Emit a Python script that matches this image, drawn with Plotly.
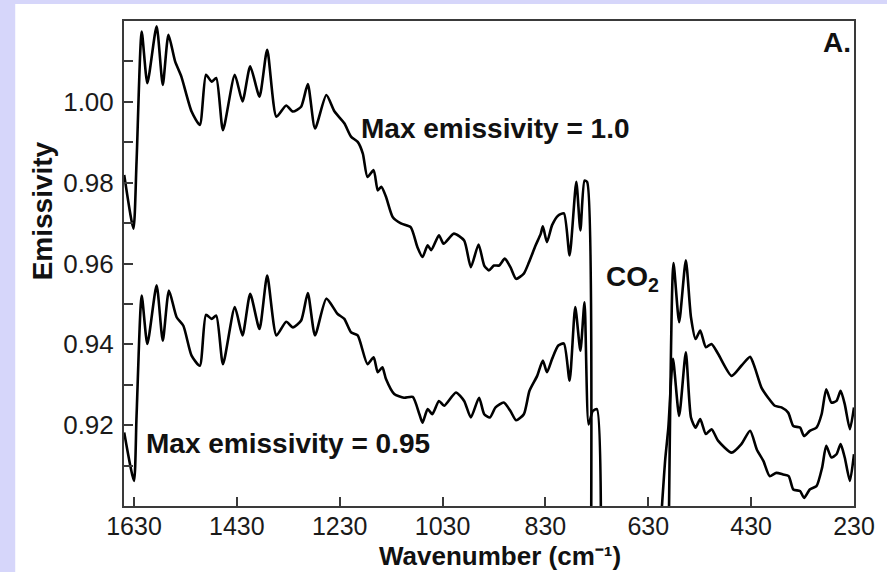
import plotly.graph_objects as go

# Emissivity spectra (wavenumber in cm-1), two scalings of the same retrieval.
# None marks the CO2 band gap.
wn_max100 = [1649, 1631, 1625, 1615, 1604, 1586, 1574, 1563, 1550, 1538, 1518, 1502,
             1490, 1479, 1470, 1457, 1434, 1419, 1404, 1386, 1371, 1353, 1334, 1321,
             1305, 1292, 1278, 1256, 1240, 1221, 1208, 1195, 1185, 1176, 1164, 1156,
             1149, 1140, 1127, 1111, 1092, 1079, 1069, 1059, 1052, 1037, 1028, 1008,
             988, 975, 960, 949, 940, 930, 920, 909, 898, 887, 872, 862, 849, 839,
             835, 827, 817, 805, 794, 783, 770, 762, 754, 749, 741,
             None,
             590, 581, 570, 557, 547, 538, 529, 518, 507, 494, 468, 449, 432, 423,
             410, 397, 384, 371, 358, 348, 335, 327, 316, 303, 293, 284, 274, 264,
             256, 248, 238, 230]
em_max100 = [0.9819, 0.9686, 0.9852, 1.0174, 1.0046, 1.0187, 1.0042, 1.0166, 1.0100,
             1.0063, 0.9976, 0.9943, 1.0067, 1.0050, 1.0059, 0.9930, 1.0067, 1.0001,
             1.0088, 1.0013, 1.0129, 0.9963, 0.9991, 0.9976, 0.9988, 1.0044, 0.9934,
             1.0017, 0.9976, 0.9947, 0.9914, 0.9901, 0.9872, 0.9814, 0.9831, 0.9781,
             0.9790, 0.9765, 0.9715, 0.9699, 0.9690, 0.9641, 0.9616, 0.9645, 0.9633,
             0.9670, 0.9649, 0.9674, 0.9657, 0.9591, 0.9647, 0.9595, 0.9583, 0.9595,
             0.9595, 0.9612, 0.9591, 0.9562, 0.9575, 0.9603, 0.9645, 0.9674, 0.9692,
             0.9653, 0.9695, 0.9719, 0.9724, 0.9620, 0.9802, 0.9682, 0.9805, 0.9802,
             0.8950,
             None,
             0.8950, 0.9601, 0.9455, 0.9608, 0.9467, 0.9413, 0.9434, 0.9393, 0.9401,
             0.9376, 0.9322, 0.9347, 0.9369, 0.9343, 0.9293, 0.9268, 0.9248, 0.9244,
             0.9231, 0.9198, 0.9194, 0.9173, 0.9186, 0.9194, 0.9227, 0.9289, 0.9256,
             0.9260, 0.9285, 0.9252, 0.9190, 0.9244]

wn_max095 = [1649, 1630, 1625, 1615, 1604, 1586, 1574, 1562, 1547, 1534, 1518, 1502,
             1490, 1479, 1470, 1457, 1434, 1419, 1404, 1386, 1371, 1353, 1334, 1321,
             1305, 1292, 1278, 1256, 1234, 1221, 1208, 1195, 1176, 1164, 1156, 1147,
             1140, 1124, 1105, 1088, 1075, 1069, 1059, 1050, 1037, 1027, 1004, 988,
             975, 959, 949, 938, 927, 911, 898, 887, 872, 861, 846, 835, 827, 817,
             805, 794, 783, 772, 762, 754, 746, 738, 730, 722,
             None,
             606, 597, 591, 582, 570, 557, 547, 538, 529, 518, 507, 494, 468, 449,
             432, 419, 406, 394, 381, 368, 357, 348, 335, 327, 316, 303, 292, 284,
             274, 264, 256, 248, 238, 230]
em_max095 = [0.9182, 0.9062, 0.9223, 0.9521, 0.9401, 0.9546, 0.9409, 0.9533, 0.9467,
             0.9446, 0.9372, 0.9347, 0.9473, 0.9463, 0.9471, 0.9351, 0.9492, 0.9422,
             0.9525, 0.9438, 0.9570, 0.9422, 0.9456, 0.9442, 0.9459, 0.9527, 0.9422,
             0.9513, 0.9475, 0.9463, 0.9430, 0.9422, 0.9351, 0.9368, 0.9331, 0.9343,
             0.9314, 0.9277, 0.9268, 0.9270, 0.9227, 0.9206, 0.9240, 0.9227, 0.9260,
             0.9248, 0.9281, 0.9260, 0.9219, 0.9268, 0.9227, 0.9219, 0.9244, 0.9256,
             0.9235, 0.9212, 0.9227, 0.9285, 0.9322, 0.9360, 0.9331, 0.9364, 0.9397,
             0.9402, 0.9310, 0.9492, 0.9384, 0.9504, 0.9202, 0.9235, 0.9240, 0.8950,
             None,
             0.8950, 0.9116, 0.9194, 0.9364, 0.9223, 0.9380, 0.9219, 0.9194, 0.9215,
             0.9178, 0.9190, 0.9161, 0.9132, 0.9153, 0.9186, 0.9140, 0.9111, 0.9074,
             0.9082, 0.9078, 0.9074, 0.9041, 0.9037, 0.9020, 0.9041, 0.9049, 0.9095,
             0.9149, 0.9120, 0.9128, 0.9153, 0.9120, 0.9062, 0.9128]

x_ticks = [1630, 1430, 1230, 1030, 830, 630, 430, 230]
y_ticks = [0.92, 0.94, 0.96, 0.98, 1.00]
y_minor = [0.91, 0.93, 0.95, 0.97, 0.99, 1.01]

FONT = "Liberation Sans, Arial, Helvetica, sans-serif"
INK = "#111111"
LINE = dict(color="black", width=2.6, shape="spline", smoothing=0.6)

fig = go.Figure()
fig.add_trace(go.Scatter(x=wn_max100, y=em_max100, mode="lines", line=LINE,
                         connectgaps=False, name="Max emissivity = 1.0"))
fig.add_trace(go.Scatter(x=wn_max095, y=em_max095, mode="lines", line=LINE,
                         connectgaps=False, name="Max emissivity = 0.95"))

axis_common = dict(
    showline=True, linecolor="#3a3a3a", linewidth=2, mirror=True,
    ticks="inside", ticklen=9, tickwidth=1.5, tickcolor="#3a3a3a",
    showgrid=False, zeroline=False,
)

fig.update_xaxes(
    range=[1649.4, 230], tickmode="array", tickvals=x_ticks,
    ticktext=[str(v) for v in x_ticks], ticklabelstandoff=-3,
    tickfont=dict(family=FONT, size=25, color="#1a1a1a"),
    **axis_common,
)
fig.update_yaxes(
    range=[0.90, 1.02], tickmode="array", tickvals=y_ticks,
    ticktext=[f"{v:.2f}" for v in y_ticks], ticklabelstandoff=3,
    tickfont=dict(family=FONT, size=26, color="#1a1a1a"),
    minor=dict(tickmode="array", tickvals=y_minor,
               ticks="inside", ticklen=9, tickcolor="#3a3a3a", tickwidth=1.5),
    **axis_common,
)

# Axis titles
fig.add_annotation(x=0.515, y=-0.138, xref="paper", yref="paper",
                   xanchor="center", yanchor="bottom", showarrow=False,
                   text="<b>Wavenumber (cm⁻¹)</b>",
                   font=dict(family=FONT, size=26, color=INK))
fig.add_annotation(x=-0.112, y=0.608, xref="paper", yref="paper",
                   xanchor="center", yanchor="middle", showarrow=False, textangle=-90,
                   text="<b>Emissivity</b>", font=dict(family=FONT, size=28, color=INK))

# In-plot labels
ann_font = dict(family=FONT, size=28, color=INK)
fig.add_annotation(x=1192, y=0.9933, xref="x", yref="y", xanchor="left", yanchor="middle",
                   text="<b>Max emissivity = 1.0</b>", showarrow=False, font=ann_font)
fig.add_annotation(x=1611, y=0.9154, xref="x", yref="y", xanchor="left", yanchor="middle",
                   text="<b>Max emissivity = 0.95</b>", showarrow=False, font=ann_font)
fig.add_annotation(x=717, y=0.9563, xref="x", yref="y", xanchor="left", yanchor="middle",
                   text="<b>CO<sub>2</sub></b>", showarrow=False, font=ann_font)
fig.add_annotation(x=0.998, y=0.955, xref="paper", yref="paper", xanchor="right",
                   yanchor="middle", text="<b>A.</b>", showarrow=False, font=ann_font)

# White card behind the chart, leaving a lavender strip on the left and top
fig.add_shape(type="rect", xref="paper", yref="paper", x0=-0.149, x1=1.2, y0=-0.3, y1=1.035,
              fillcolor="white", line=dict(width=0), layer="below")

fig.update_layout(
    width=887, height=572,
    margin=dict(l=124, r=31, t=21, b=66),
    paper_bgcolor="#d6d6fa", plot_bgcolor="white",
    showlegend=False,
    font=dict(family=FONT),
)

fig.write_html("out.html")
